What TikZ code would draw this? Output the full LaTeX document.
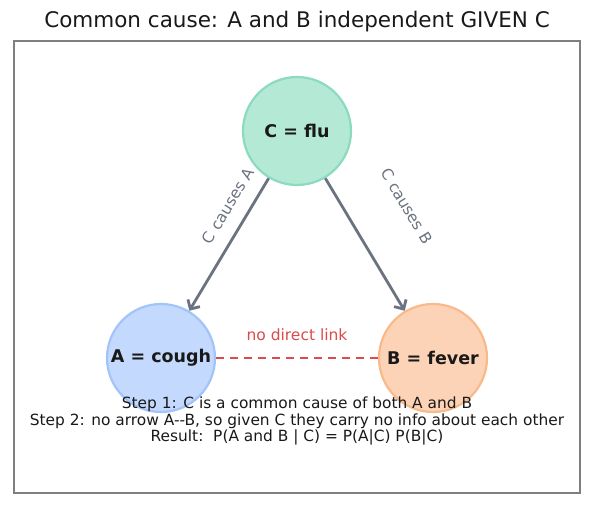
\documentclass[tikz,border=0pt]{standalone}
\usepackage{fontspec}
\setmainfont{DejaVu Sans}
\usepackage{xcolor}
\usepackage{tikz}
\usetikzlibrary{arrows.meta,positioning,calc}
\definecolor{CauseFill}{HTML}{B4E9D6}
\definecolor{CauseEdge}{HTML}{8CDABF}
\definecolor{CoughFill}{HTML}{C3D9FD}
\definecolor{CoughEdge}{HTML}{A2C4F8}
\definecolor{FeverFill}{HTML}{FDD3B8}
\definecolor{FeverEdge}{HTML}{F8BA8A}
\definecolor{LinkGray}{HTML}{6B7280}
\definecolor{LinkRed}{HTML}{DC4A4A}
\definecolor{FrameGray}{HTML}{7F7F7F}
\tikzset{
  varnode/.style={circle,minimum size=108pt,inner sep=0pt,line width=2.2pt,
    font={\bfseries\fontsize{17.5}{20}\selectfont},text=black!90},
  causearrow/.style={LinkGray,line width=2.8pt,-{Straight Barb[length=7pt,width=14pt,line width=2.8pt]}},
  nolink/.style={LinkRed,line width=2.4pt,dash pattern=on 8pt off 6pt},
  edgelabel/.style={font=\fontsize{15.5}{18}\selectfont,LinkGray},
}
\begin{document}
\begin{tikzpicture}[x=1pt,y=-1pt]
        \useasboundingbox (0,0) rectangle (593,508);
        \node[font=\fontsize{21.5}{25}\selectfont,text=black!90] (title) at (297,22)
          {Common cause: A and B independent GIVEN C};
        \draw[FrameGray,line width=1.3pt] (14,41) rectangle (580,493);

        % the three variables
        \node[varnode,fill=CauseFill,draw=CauseEdge] (C) at (297,131) {C = flu};
        \node[varnode,fill=CoughFill,draw=CoughEdge] (A) at (161,358) {A = cough};
        \node[varnode,fill=FeverFill,draw=FeverEdge] (B) at (433,358) {B = fever};

        % causal links
        \draw[causearrow] (C) -- (A);
        \draw[causearrow] (C) -- (B);
        \node[edgelabel,rotate=59] (labA) at (228,206) {C causes A};
        \node[edgelabel,rotate=-59] (labB) at (407,206) {C causes B};

        % no edge between A and B
        \draw[nolink] (A) -- (B);
        \node[font=\fontsize{15.5}{18}\selectfont,LinkRed] (nolinklab) at (297,335) {no direct link};

        \node[align=center,font=\fontsize{15.4}{16.6}\selectfont,text=black!90] (steps) at (297,421)
          {Step 1: C is a common cause of both A and B\\
           Step 2: no arrow A-{}-B, so given C they carry no info about each other\\
           Result:\ \ P(A and B | C) = P(A|C) P(B|C)};
      \end{tikzpicture}
\end{document}
